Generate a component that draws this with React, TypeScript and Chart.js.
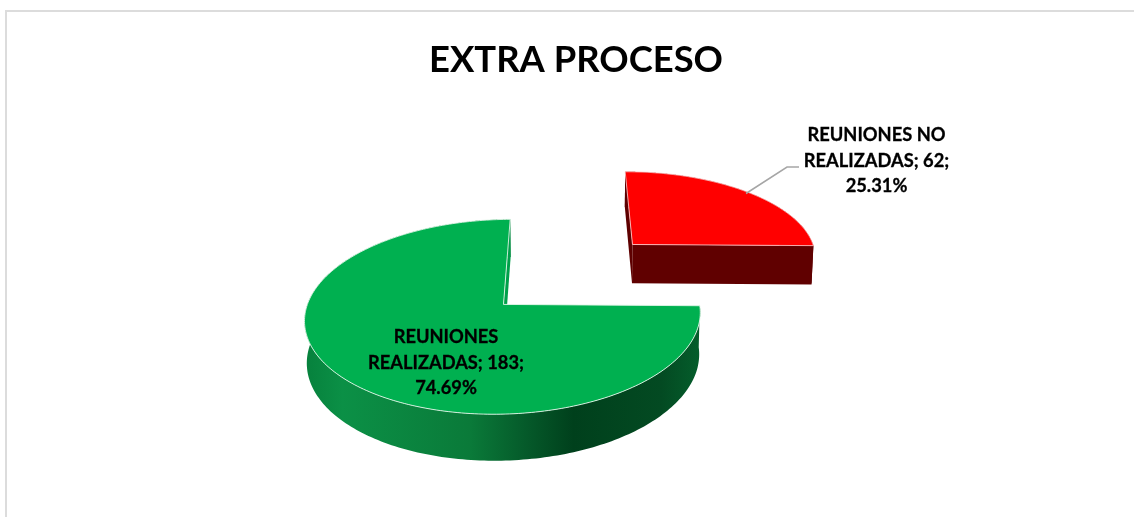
import React, { useEffect, useRef } from "react";
import { Chart, registerables } from "chart.js";

Chart.register(...registerables);

const titleText = "EXTRA PROCESO";
const categories = ["REUNIONES REALIZADAS", "REUNIONES NO REALIZADAS"];
const seriesValues = [183, 62];
const sliceColors = ["#00B050", "#FF0000"];
const labelHeads = [["REUNIONES"], ["REUNIONES NO"]];
const labelTails = ["REALIZADAS", "REALIZADAS"];

const FONT = "Lato, Carlito, Calibri, sans-serif";
const total = seriesValues.reduce((a, b) => a + b, 0);

// perspective camera of the 3-D pie
const VP_X = 571, HORIZON = -450, D0 = 1.0428, K = 0.000648, M = 0.0085, L = 754, C = 48.3;
function project(u: number, v: number, z: number): [number, number] {
  const d = D0 + K * v + M * z;
  return [VP_X + u / d, HORIZON + (L + C * z) / d];
}

function sliceGeometry(arc: any) {
  const mid = (arc.startAngle + arc.endAngle) / 2;
  const off = arc.options.offset || 0;
  const ox = Math.cos(mid) * off, oy = Math.sin(mid) * off;
  const r = arc.outerRadius;
  const rim = (a: number, z: number) => project(Math.cos(a) * r + ox, -(Math.sin(a) * r + oy), z);
  const apex = (z: number) => project(ox, -oy, z);
  return { rim, apex };
}

function poly(ctx: CanvasRenderingContext2D, pts: [number, number][]) {
  ctx.beginPath();
  pts.forEach((p, i) => (i ? ctx.lineTo(p[0], p[1]) : ctx.moveTo(p[0], p[1])));
  ctx.closePath();
}

function arcPoints(rim: any, a0: number, a1: number, z: number) {
  const n = 240;
  const out: [number, number][] = [];
  for (let i = 0; i <= n; i++) out.push(rim(a0 + ((a1 - a0) * i) / n, z));
  return out;
}

const pie3d = {
  id: "pie3d",
  beforeDatasetsDraw(chart: any) {
    const ctx: CanvasRenderingContext2D = chart.ctx;
    const arcs = chart.getDatasetMeta(0).data;
    ctx.save();

    // red slice (behind)
    {
      const arc = arcs[1];
      const { rim, apex } = sliceGeometry(arc);
      const s = arc.startAngle, e = arc.endAngle;
      ctx.fillStyle = "#5E0000";
      poly(ctx, [...arcPoints(rim, s, e, 0), ...arcPoints(rim, s, e, 1).reverse()]);
      ctx.fill();
      poly(ctx, [apex(0), rim(s, 0), rim(s, 1), apex(1)]);
      ctx.fill();
      ctx.fillStyle = "#600000";
      poly(ctx, [apex(0), rim(e, 0), rim(e, 1), apex(1)]);
      ctx.fill();
      const top = [apex(0), ...arcPoints(rim, s, e, 0)];
      ctx.fillStyle = arc.options.backgroundColor;
      poly(ctx, top);
      ctx.fill();
      ctx.strokeStyle = "rgba(255,200,200,0.85)";
      ctx.lineWidth = 1;
      ctx.stroke();
    }

    // green slice
    {
      const arc = arcs[0];
      const { rim, apex } = sliceGeometry(arc);
      const s = arc.startAngle, e = arc.endAngle;
      const g = ctx.createLinearGradient(303, 0, 701, 0);
      g.addColorStop(0, "#06803C");
      g.addColorStop(0.1, "#0B9046");
      g.addColorStop(0.42, "#0A7A39");
      g.addColorStop(0.56, "#055A2A");
      g.addColorStop(0.68, "#00401C");
      g.addColorStop(0.9, "#034A22");
      g.addColorStop(1, "#055E2C");
      ctx.fillStyle = g;
      poly(ctx, [...arcPoints(rim, s, e, 0), ...arcPoints(rim, s, e, 1).reverse()]);
      ctx.fill();
      ctx.fillStyle = "#00A04A";
      poly(ctx, [apex(0), rim(e, 0), rim(e, 1), apex(1)]);
      ctx.fill();
      const top = [apex(0), ...arcPoints(rim, s, e, 0)];
      ctx.fillStyle = arc.options.backgroundColor;
      poly(ctx, top);
      ctx.fill();
      ctx.strokeStyle = "rgba(225,245,232,0.9)";
      ctx.lineWidth = 1;
      ctx.stroke();
    }

    // leader line of the red slice
    ctx.strokeStyle = "#A6A6A6";
    ctx.lineWidth = 1.5;
    ctx.beginPath();
    ctx.moveTo(746, 193.5);
    ctx.lineTo(787, 167);
    ctx.lineTo(799, 167);
    ctx.stroke();

    // data labels
    const anchors = [
      { x: 446, y: 337 },
      { x: 876.5, y: 135 },
    ];
    ctx.fillStyle = "#000000";
    ctx.strokeStyle = "#000000";
    ctx.lineWidth = 0.3;
    ctx.font = `bold 18.3px ${FONT}`;
    ctx.textAlign = "center";
    ctx.textBaseline = "middle";
    seriesValues.forEach((value, i) => {
      const lines = [
        ...labelHeads[i],
        `${labelTails[i]}; ${value};`,
        `${((value / total) * 100).toFixed(2)}%`,
      ];
      lines.forEach((t, j) => {
        ctx.fillText(t, anchors[i].x, anchors[i].y + j * 25.8);
        ctx.strokeText(t, anchors[i].x, anchors[i].y + j * 25.8);
      });
    });
    ctx.restore();
    return false;
  },
};

export default function App() {
  const ref = useRef<HTMLCanvasElement>(null);
  useEffect(() => {
    document.body.style.margin = "0";
    const chart = new Chart(ref.current!, {
      type: "pie",
      data: {
        labels: categories,
        datasets: [
          {
            data: seriesValues,
            backgroundColor: sliceColors,
            borderWidth: 0,
            offset: [95, 94],
            radius: 196,
          } as any,
        ],
      },
      options: {
        responsive: false,
        animation: false,
        rotation: 90.8,
        layout: { padding: { left: 18 } },
        plugins: {
          legend: { display: false },
          tooltip: { enabled: false },
          title: {
            display: true,
            text: titleText,
            color: "#000000",
            font: { family: FONT, size: 36.4, weight: "bold" },
            padding: { top: 38, bottom: 0 },
          },
        },
      },
      plugins: [pie3d],
    });
    return () => chart.destroy();
  }, []);
  return (
    <div style={{ position: "fixed", left: 0, top: 0, width: 1134, height: 517, overflow: "hidden", background: "#fff" }}>
      <canvas ref={ref} width={1134} height={517} style={{ display: "block" }} />
      <div
        style={{
          position: "absolute",
          left: 5,
          top: 10,
          right: 0,
          bottom: 0,
          borderLeft: "2px solid #DCDCDC",
          borderTop: "2px solid #DCDCDC",
          pointerEvents: "none",
        }}
      />
    </div>
  );
}
